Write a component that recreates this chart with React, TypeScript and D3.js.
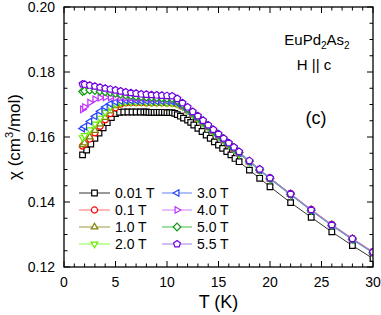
import * as d3 from 'd3';
import React from 'react';

// temperature grids (K)
const tempsLow = [
  1.8, 2.2, 2.6, 3.0, 3.4, 3.8, 4.2, 4.6, 5.0, 5.4, 5.8, 6.2, 6.6, 7.0, 7.4,
  7.75, 8.0, 8.25, 8.5, 8.75, 9.0, 9.25, 9.5, 9.75, 10.0, 10.25, 10.5, 10.75,
  11.0, 11.3, 11.6, 12.0, 12.3, 12.6, 13.0, 13.4, 13.8, 14.2, 14.6, 15.0, 15.4,
  15.8, 16.2, 16.6, 17, 18, 19, 20, 22, 24, 26, 28, 30
];
const temps = [
  1.8, 2, 2.5, 3, 3.5, 4, 4.5, 5, 5.5, 6, 6.5, 7, 7.5, 8, 8.5, 9, 9.5, 10,
  10.5, 11, 11.5, 12, 12.5, 13, 13.5, 14, 14.5, 15, 15.5, 16, 16.5, 17, 18, 19,
  20, 22, 24, 26, 28, 30
];

// chi (cm3/mol) per field
const chi001 = [
  0.1545, 0.156, 0.1578, 0.1596, 0.1612, 0.1628, 0.1644, 0.166, 0.1672, 0.1676,
  0.1677, 0.1677, 0.1677, 0.1677, 0.1677, 0.1677, 0.1677, 0.1676, 0.1676,
  0.1676, 0.1676, 0.1676, 0.1676, 0.1676, 0.1675, 0.1675, 0.1675, 0.1673,
  0.1669, 0.1664, 0.1658, 0.1652, 0.1645, 0.1637, 0.1627, 0.1617, 0.1606,
  0.1596, 0.1585, 0.1575, 0.1565, 0.1555, 0.1545, 0.1534, 0.1524, 0.1498,
  0.1473, 0.1447, 0.1398, 0.1353, 0.1308, 0.1266, 0.1226
];
const chi01 = [
  0.1572, 0.1577, 0.1594, 0.1613, 0.1633, 0.1653, 0.1672, 0.169, 0.1701,
  0.1705, 0.1706, 0.1706, 0.1706, 0.1705, 0.1705, 0.1705, 0.1705, 0.1704,
  0.1704, 0.1701, 0.1694, 0.1683, 0.167, 0.1657, 0.1644, 0.1631, 0.1618,
  0.1604, 0.1591, 0.1578, 0.1564, 0.1551, 0.1525, 0.1499, 0.1474, 0.1426,
  0.1377, 0.1331, 0.1288, 0.1247
];
const chi1 = [
  0.1576, 0.1582, 0.16, 0.162, 0.164, 0.166, 0.168, 0.1696, 0.1703, 0.1706,
  0.1706, 0.1706, 0.1706, 0.1706, 0.1705, 0.1705, 0.1705, 0.1705, 0.1704,
  0.1701, 0.1693, 0.1681, 0.1668, 0.1655, 0.1642, 0.1629, 0.1616, 0.1602,
  0.1589, 0.1576, 0.1562, 0.1549, 0.1523, 0.1497, 0.1471, 0.1423, 0.1375,
  0.1329, 0.1286, 0.1245
];
const chi2 = [
  0.1598, 0.1605, 0.1622, 0.164, 0.1658, 0.1676, 0.1692, 0.1702, 0.1706,
  0.1707, 0.1707, 0.1707, 0.1707, 0.1706, 0.1706, 0.1706, 0.1706, 0.1705,
  0.1705, 0.1702, 0.1693, 0.1681, 0.1668, 0.1655, 0.1642, 0.1629, 0.1616,
  0.1602, 0.1589, 0.1575, 0.1562, 0.1548, 0.1522, 0.1496, 0.147, 0.1422,
  0.1374, 0.1328, 0.1285, 0.1244
];
const chi3 = [
  0.1626, 0.1632, 0.1648, 0.1664, 0.1679, 0.1692, 0.1702, 0.1708, 0.1711,
  0.1712, 0.1712, 0.1712, 0.1711, 0.1711, 0.1711, 0.171, 0.171, 0.171, 0.1709,
  0.1705, 0.1695, 0.1683, 0.167, 0.1657, 0.1644, 0.1631, 0.1617, 0.1604,
  0.159, 0.1577, 0.1563, 0.155, 0.1523, 0.1497, 0.1471, 0.1422, 0.1373,
  0.1327, 0.1284, 0.1243
];
const chi4 = [
  0.1685, 0.1692, 0.1706, 0.1716, 0.1721, 0.1722, 0.1722, 0.1721, 0.1721,
  0.172, 0.172, 0.1719, 0.1719, 0.1719, 0.1718, 0.1718, 0.1718, 0.1717,
  0.1717, 0.1711, 0.1699, 0.1686, 0.1673, 0.166, 0.1647, 0.1633, 0.162,
  0.1606, 0.1592, 0.1579, 0.1565, 0.1552, 0.1525, 0.1499, 0.1473, 0.1424,
  0.1375, 0.1329, 0.1286, 0.1245
];
const chi5 = [
  0.174, 0.1742, 0.1744, 0.1743, 0.1741, 0.1739, 0.1737, 0.1734, 0.1731,
  0.1729, 0.1727, 0.1725, 0.1724, 0.1723, 0.1722, 0.1721, 0.172, 0.1719,
  0.1718, 0.1712, 0.17, 0.1688, 0.1675, 0.1662, 0.1648, 0.1635, 0.1621,
  0.1608, 0.1594, 0.158, 0.1567, 0.1553, 0.1526, 0.15, 0.1473, 0.1424, 0.1375,
  0.1329, 0.1286, 0.1245
];
const chi55 = [
  0.1763, 0.1762, 0.1759, 0.1756, 0.1753, 0.175, 0.1747, 0.1744, 0.1741,
  0.1738, 0.1736, 0.1734, 0.1732, 0.1731, 0.173, 0.1729, 0.1728, 0.1727,
  0.1726, 0.1718, 0.1705, 0.1692, 0.1678, 0.1665, 0.1651, 0.1637, 0.1623,
  0.161, 0.1596, 0.1582, 0.1569, 0.1555, 0.1527, 0.1501, 0.1474, 0.1425,
  0.1376, 0.133, 0.1287, 0.1246
];

const labels = ['0.01 T', '0.1 T', '1.0 T', '2.0 T', '3.0 T', '4.0 T', '5.0 T', '5.5 T'];
const markerColors = ['#000000', '#ff0000', '#808000', '#66ee00', '#2244ff', '#c030ff', '#119911', '#7000e0'];
const lineColors = ['#333333', '#ff7070', '#9a9a40', '#88ff44', '#6080ff', '#d080ff', '#44bb44', '#a080ee'];
const shapes = ['square', 'circle', 'up', 'down', 'left', 'right', 'diamond', 'pentagon'];
const seriesX = [tempsLow, temps, temps, temps, temps, temps, temps, temps];
const seriesY = [chi001, chi01, chi1, chi2, chi3, chi4, chi5, chi55];

const xTicks = [0, 5, 10, 15, 20, 25, 30];
const yTicks = [0.12, 0.14, 0.16, 0.18, 0.2];

const W = 381;
const H = 315;
const margin = { left: 64, right: 8, top: 7, bottom: 48 };
const font = '"Liberation Sans", Arial, sans-serif';

const polygon = (n: number, r: number, rot: number) => {
  const pts = d3.range(n).map((i) => {
    const a = rot + (i * 2 * Math.PI) / n;
    return [r * Math.cos(a), r * Math.sin(a)];
  });
  return 'M' + pts.map((p) => p[0].toFixed(2) + ',' + p[1].toFixed(2)).join('L') + 'Z';
};

const markerPath = (shape: string) => {
  switch (shape) {
    case 'square':
      return 'M-2.8,-2.8h5.6v5.6h-5.6Z';
    case 'circle':
      return d3.symbol(d3.symbolCircle, 30)() as string;
    case 'up':
      return polygon(3, 3.8, -Math.PI / 2);
    case 'down':
      return polygon(3, 3.8, Math.PI / 2);
    case 'left':
      return polygon(3, 3.8, Math.PI);
    case 'right':
      return polygon(3, 3.8, 0);
    case 'diamond':
      return polygon(4, 3.8, 0);
    default:
      return polygon(5, 3.6, -Math.PI / 2);
  }
};

export default function App() {
  const x = d3.scaleLinear().domain([0, 30]).range([margin.left, W - margin.right]);
  const y = d3.scaleLinear().domain([0.12, 0.2]).range([H - margin.bottom, margin.top]);
  const x0 = x.range()[0];
  const x1 = x.range()[1];
  const y0 = y.range()[0];
  const y1 = y.range()[1];

  const xMinor = d3.range(0, 31, 1);
  const yMinor = d3.range(0.12, 0.2001, 0.005);

  const line = d3
    .line<[number, number]>()
    .x((d) => x(d[0]))
    .y((d) => y(d[1]));

  const legendRows = [193, 210, 227, 244];
  const legendCols = [
    { x0: 79, x1: 110, tx: 115 },
    { x0: 162, x1: 192, tx: 197 }
  ];

  return (
    <svg
      width={W}
      height={H}
      style={{ position: 'absolute', left: 0, top: 0, background: '#fff' }}
      fontFamily={font}
    >
      <defs>
        <clipPath id="plotClip">
          <rect x={x0} y={y1} width={x1 - x0} height={y0 - y1} />
        </clipPath>
      </defs>

      {/* ticks */}
      <g stroke="#000" strokeWidth={1}>
        {xMinor.map((t) => {
          const len = t % 5 === 0 ? 6 : 3.5;
          return (
            <g key={'xt' + t}>
              <line x1={x(t)} x2={x(t)} y1={y0} y2={y0 - len} />
              <line x1={x(t)} x2={x(t)} y1={y1} y2={y1 + len} />
            </g>
          );
        })}
        {yMinor.map((v, i) => {
          const len = i % 4 === 0 ? 6 : 3.5;
          return (
            <g key={'yt' + i}>
              <line x1={x0} x2={x0 + len} y1={y(v)} y2={y(v)} />
              <line x1={x1} x2={x1 - len} y1={y(v)} y2={y(v)} />
            </g>
          );
        })}
      </g>

      {/* series */}
      <g clipPath="url(#plotClip)">
        {seriesY.map((vals, si) => {
          const pts = vals.map((v, i) => [seriesX[si][i], v] as [number, number]);
          const path = markerPath(shapes[si]);
          return (
            <g key={'s' + si}>
              <path d={line(pts) as string} fill="none" stroke={lineColors[si]} strokeWidth={1} />
              {pts.map((p, i) => (
                <path
                  key={i}
                  d={path}
                  transform={`translate(${x(p[0])},${y(p[1])})`}
                  fill="#fff"
                  stroke={markerColors[si]}
                  strokeWidth={1.2}
                />
              ))}
            </g>
          );
        })}
      </g>

      {/* frame */}
      <rect x={x0} y={y1} width={x1 - x0} height={y0 - y1} fill="none" stroke="#000" strokeWidth={1.3} />

      {/* tick labels */}
      <g fontSize={14} fill="#000">
        {xTicks.map((t) => (
          <text key={'xl' + t} x={x(t)} y={y0 + 20} textAnchor="middle">
            {t}
          </text>
        ))}
        {yTicks.map((v) => (
          <text key={'yl' + v} x={x0 - 9} y={y(v) + 5} textAnchor="end">
            {v.toFixed(2)}
          </text>
        ))}
      </g>

      {/* axis titles */}
      <text x={(x0 + x1) / 2} y={308} fontSize={18} textAnchor="middle">
        T (K)
      </text>
      <text
        transform={`translate(20,${(y0 + y1) / 2}) rotate(-90)`}
        fontSize={17}
        textAnchor="middle"
      >
        χ (cm<tspan fontSize={11} dy={-7}>3</tspan>
        <tspan dy={7}>/mol)</tspan>
      </text>

      {/* annotations */}
      <text x={317} y={45} fontSize={15} textAnchor="middle">
        EuPd<tspan fontSize={10} dy={4}>2</tspan>
        <tspan dy={-4}>As</tspan>
        <tspan fontSize={10} dy={4}>2</tspan>
      </text>
      <text x={314} y={70} fontSize={15} textAnchor="middle">
        H || c
      </text>
      <text x={316} y={124} fontSize={18} textAnchor="middle">
        (c)
      </text>

      {/* legend */}
      <g>
        {labels.map((lab, i) => {
          const col = legendCols[Math.floor(i / 4)];
          const ry = legendRows[i % 4];
          const mx = (col.x0 + col.x1) / 2;
          return (
            <g key={'lg' + i}>
              <line x1={col.x0} x2={col.x1} y1={ry} y2={ry} stroke={lineColors[i]} strokeWidth={1} />
              <path
                d={markerPath(shapes[i])}
                transform={`translate(${mx},${ry})`}
                fill="#fff"
                stroke={markerColors[i]}
                strokeWidth={1.2}
              />
              <text x={col.tx} y={ry + 5} fontSize={14}>
                {lab}
              </text>
            </g>
          );
        })}
      </g>
    </svg>
  );
}
